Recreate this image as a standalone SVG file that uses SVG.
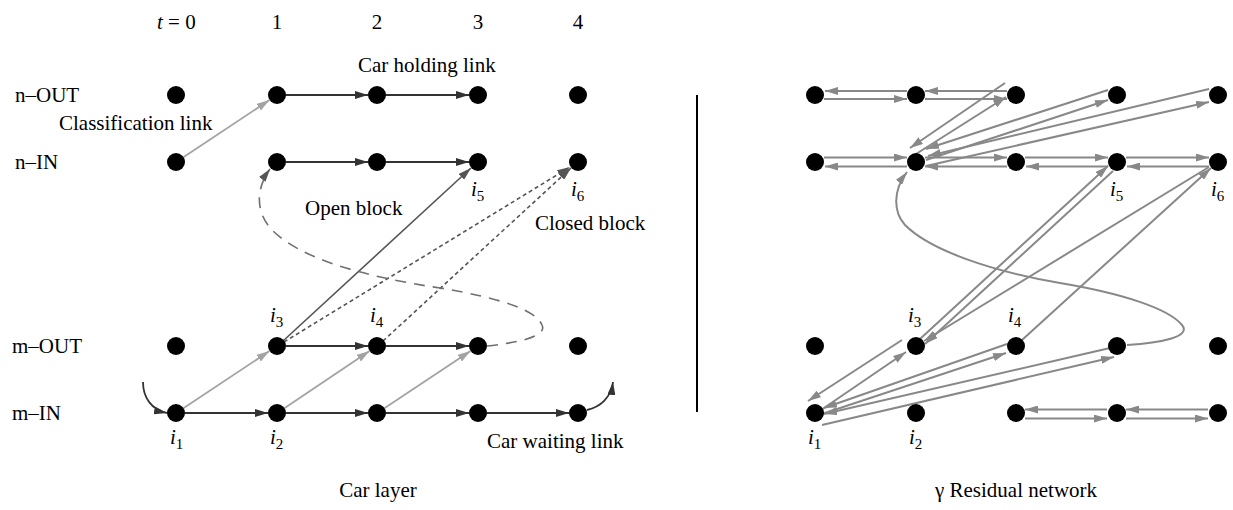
<svg xmlns="http://www.w3.org/2000/svg" width="1233" height="510" viewBox="0 0 1233 510">
<style>
text{font-family:"Liberation Serif","Times New Roman",serif;font-size:21px;fill:#000}
.it{font-style:italic}
.sub{font-size:15px}
.nd{fill:#000}
.dk{stroke:#333;stroke-width:1.8;fill:none;marker-end:url(#ak)}
.lt{stroke:#a3a3a3;stroke-width:1.8;fill:none;marker-end:url(#al)}
.md{stroke:#555;stroke-width:1.6;fill:none;marker-end:url(#am)}
.dt{stroke:#555;stroke-width:1.6;fill:none;stroke-dasharray:4 3;marker-end:url(#am)}
.lg{stroke:#707070;stroke-width:1.6;fill:none;stroke-dasharray:11 8;marker-end:url(#am)}
.rg{stroke:#888;stroke-width:2;fill:none;marker-end:url(#ag)}
.rc{stroke:#888;stroke-width:2;fill:none;marker-end:url(#ag)}
</style>
<defs>
<marker id="ak" markerUnits="userSpaceOnUse" markerWidth="13" markerHeight="8" refX="13" refY="4" orient="auto"><path d="M0,0 L13,4 L0,8 z" fill="#333"/></marker>
<marker id="al" markerUnits="userSpaceOnUse" markerWidth="13" markerHeight="8" refX="13" refY="4" orient="auto"><path d="M0,0 L13,4 L0,8 z" fill="#a3a3a3"/></marker>
<marker id="am" markerUnits="userSpaceOnUse" markerWidth="13" markerHeight="8" refX="13" refY="4" orient="auto"><path d="M0,0 L13,4 L0,8 z" fill="#555"/></marker>
<marker id="ag" markerUnits="userSpaceOnUse" markerWidth="13" markerHeight="8" refX="13" refY="4" orient="auto"><path d="M0,0 L13,4 L0,8 z" fill="#888"/></marker>
</defs>

<g id="labels">
<text x="157" y="29"><tspan class="it">t</tspan> = 0</text>
<text x="277" y="29" text-anchor="middle">1</text>
<text x="377" y="29" text-anchor="middle">2</text>
<text x="478" y="29" text-anchor="middle">3</text>
<text x="578" y="29" text-anchor="middle">4</text>
<text x="15" y="102">n–OUT</text>
<text x="15" y="169">n–IN</text>
<text x="12" y="353">m–OUT</text>
<text x="12" y="420">m–IN</text>
<text x="358" y="72">Car holding link</text>
<text x="59" y="130">Classification link</text>
<text x="305" y="215">Open block</text>
<text x="535" y="230">Closed block</text>
<text x="487" y="448">Car waiting link</text>
<text x="378" y="497" text-anchor="middle">Car layer</text>
<text x="1016" y="497" text-anchor="middle">γ Residual network</text>
<text x="471" y="196"><tspan class="it">i</tspan><tspan class="sub" dy="5">5</tspan></text>
<text x="571" y="196"><tspan class="it">i</tspan><tspan class="sub" dy="5">6</tspan></text>
<text x="270" y="322"><tspan class="it">i</tspan><tspan class="sub" dy="5">3</tspan></text>
<text x="370" y="322"><tspan class="it">i</tspan><tspan class="sub" dy="5">4</tspan></text>
<text x="170" y="444"><tspan class="it">i</tspan><tspan class="sub" dy="5">1</tspan></text>
<text x="270" y="444"><tspan class="it">i</tspan><tspan class="sub" dy="5">2</tspan></text>
<text x="1110" y="196"><tspan class="it">i</tspan><tspan class="sub" dy="5">5</tspan></text>
<text x="1211" y="196"><tspan class="it">i</tspan><tspan class="sub" dy="5">6</tspan></text>
<text x="908" y="322"><tspan class="it">i</tspan><tspan class="sub" dy="5">3</tspan></text>
<text x="1008" y="322"><tspan class="it">i</tspan><tspan class="sub" dy="5">4</tspan></text>
<text x="808" y="444"><tspan class="it">i</tspan><tspan class="sub" dy="5">1</tspan></text>
<text x="909" y="444"><tspan class="it">i</tspan><tspan class="sub" dy="5">2</tspan></text>
</g>

<line id="divider" x1="697" y1="95" x2="697" y2="412" stroke="#000" stroke-width="2"/>

<g id="connectors">
<!-- left: holding links -->
<path class="dk" d="M286,95 L368,95"/>
<path class="dk" d="M386,95 L469,95"/>
<path class="dk" d="M286,162 L368,162"/>
<path class="dk" d="M386,162 L469,162"/>
<path class="dk" d="M286,346 L368,346"/>
<path class="dk" d="M386,346 L469,346"/>
<path class="dk" d="M185,413 L268,413"/>
<path class="dk" d="M286,413 L368,413"/>
<path class="dk" d="M386,413 L469,413"/>
<path class="dk" d="M487,413 L569,413"/>
<!-- classification links -->
<path class="lt" d="M183,157.5 L269.5,100"/>
<path class="lt" d="M183,408.5 L269.5,351"/>
<path class="lt" d="M284,408.5 L369.5,351"/>
<path class="lt" d="M384,408.5 L470.5,351"/>
<!-- open block -->
<path class="md" d="M283,341 L471,168"/>
<!-- closed blocks -->
<path class="dt" d="M284,342 L570,167"/>
<path class="dt" d="M383,341 L571,168"/>
<!-- long dashed curve -->
<path class="lg" d="M487,346 C515,343 548,337 542,325 C536,310 500,298 440,288 C360,276 300,258 272,230 C255,212 256,188 270,169"/>
<!-- waiting arcs -->
<path class="dk" d="M143,382 C143,398 152,410 167,413"/>
<path class="dk" d="M587,410 C600,407 611,398 613,382"/>

<!-- right: horizontal pairs -->
<path class="rg" d="M907,91 L825,91"/>
<path class="rg" d="M824,99 L907,99"/>
<path class="rg" d="M1007,91 L925,91"/>
<path class="rg" d="M925,99 L1007,99"/>
<path class="rg" d="M824,157.5 L907,157.5"/>
<path class="rg" d="M907,166.5 L825,166.5"/>
<path class="rg" d="M925,157.5 L1007,157.5"/>
<path class="rg" d="M1007,166.5 L925,166.5"/>
<path class="rg" d="M1025,157.5 L1108,157.5"/>
<path class="rg" d="M1108,166.5 L1026,166.5"/>
<path class="rg" d="M1126,157.5 L1209,157.5"/>
<path class="rg" d="M1209,166.5 L1127,166.5"/>
<path class="rg" d="M1107,409.5 L1025,409.5"/>
<path class="rg" d="M1025,418.5 L1107,418.5"/>
<path class="rg" d="M1208,409.5 L1126,409.5"/>
<path class="rg" d="M1126,418.5 L1208,418.5"/>
<!-- right: fan from R1 n-IN to top row -->
<path class="rg" d="M1005,83 L910,148"/>
<path class="rg" d="M916,154 L1006,97"/>
<path class="rg" d="M1108,90 L926,149"/>
<path class="rg" d="M926,160 L1108,100"/>
<path class="rg" d="M1209,89 L928,156"/>
<path class="rg" d="M926,166 L1209,102"/>
<!-- right: diagonals between n-IN and m-OUT -->
<path class="rg" d="M920,339 L1108,166"/>
<path class="rg" d="M1113,171 L925,344"/>
<path class="rg" d="M1209,167 L924,341"/>
<path class="rg" d="M1022,340 L1211,168"/>
<!-- right: from i1 -->
<path class="rg" d="M902,340 L808,401"/>
<path class="rg" d="M821,410 L906,352"/>
<path class="rg" d="M1007,344 L824,408"/>
<path class="rg" d="M822,414 L1006,353"/>
<path class="rg" d="M1110,348 L824,414"/>
<path class="rg" d="M822,425 L1114,357"/>
<!-- right: curve -->
<path class="rc" d="M1127,345 C1160,343 1192,337 1182,325 C1168,308 1120,293 1060,283 C990,271 930,250 905,225 C893,212 893,190 907,172"/>
</g>

<g id="nodes-left">
<circle class="nd" cx="176" cy="95" r="9"/><circle class="nd" cx="277" cy="95" r="9"/><circle class="nd" cx="377" cy="95" r="9"/><circle class="nd" cx="478" cy="95" r="9"/><circle class="nd" cx="578" cy="95" r="9"/>
<circle class="nd" cx="176" cy="162" r="9"/><circle class="nd" cx="277" cy="162" r="9"/><circle class="nd" cx="377" cy="162" r="9"/><circle class="nd" cx="478" cy="162" r="9"/><circle class="nd" cx="578" cy="162" r="9"/>
<circle class="nd" cx="176" cy="346" r="9"/><circle class="nd" cx="277" cy="346" r="9"/><circle class="nd" cx="377" cy="346" r="9"/><circle class="nd" cx="478" cy="346" r="9"/><circle class="nd" cx="578" cy="346" r="9"/>
<circle class="nd" cx="176" cy="413" r="9"/><circle class="nd" cx="277" cy="413" r="9"/><circle class="nd" cx="377" cy="413" r="9"/><circle class="nd" cx="478" cy="413" r="9"/><circle class="nd" cx="578" cy="413" r="9"/>
</g>
<g id="nodes-right">
<circle class="nd" cx="815" cy="95" r="9"/><circle class="nd" cx="916" cy="95" r="9"/><circle class="nd" cx="1016" cy="95" r="9"/><circle class="nd" cx="1117" cy="95" r="9"/><circle class="nd" cx="1218" cy="95" r="9"/>
<circle class="nd" cx="815" cy="162" r="9"/><circle class="nd" cx="916" cy="162" r="9"/><circle class="nd" cx="1016" cy="162" r="9"/><circle class="nd" cx="1117" cy="162" r="9"/><circle class="nd" cx="1218" cy="162" r="9"/>
<circle class="nd" cx="815" cy="346" r="9"/><circle class="nd" cx="916" cy="346" r="9"/><circle class="nd" cx="1016" cy="346" r="9"/><circle class="nd" cx="1117" cy="346" r="9"/><circle class="nd" cx="1218" cy="346" r="9"/>
<circle class="nd" cx="815" cy="413" r="9"/><circle class="nd" cx="916" cy="413" r="9"/><circle class="nd" cx="1016" cy="413" r="9"/><circle class="nd" cx="1117" cy="413" r="9"/><circle class="nd" cx="1218" cy="413" r="9"/>
</g>
</svg>
